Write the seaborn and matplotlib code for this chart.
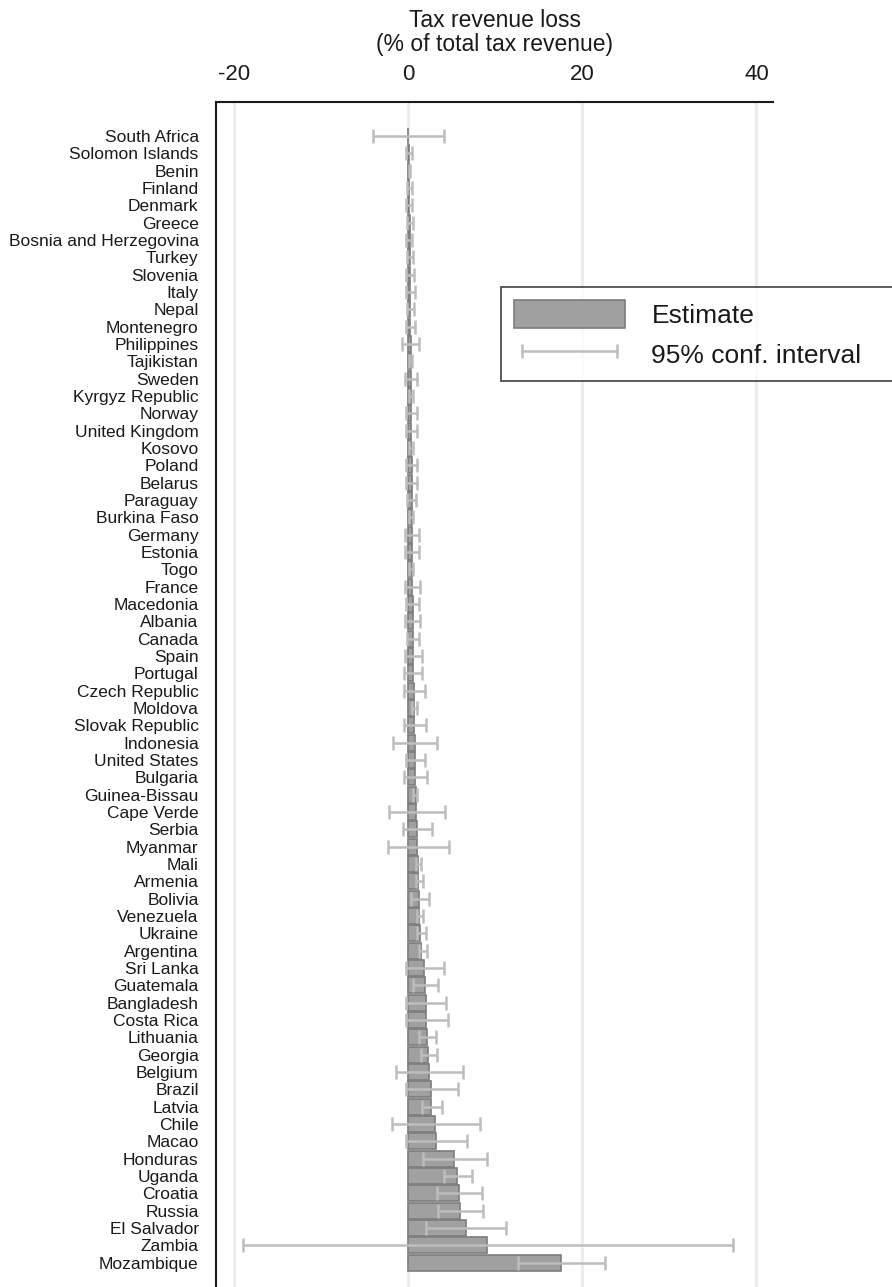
import numpy as np
import pandas as pd
import matplotlib
matplotlib.use("Agg")
import matplotlib.pyplot as plt
import seaborn as sns
from matplotlib.patches import Patch
from matplotlib.lines import Line2D

# ---- data ----
countries = [
    "South Africa", "Solomon Islands", "Benin", "Finland", "Denmark", "Greece",
    "Bosnia and Herzegovina", "Turkey", "Slovenia", "Italy", "Nepal", "Montenegro",
    "Philippines", "Tajikistan", "Sweden", "Kyrgyz Republic", "Norway",
    "United Kingdom", "Kosovo", "Poland", "Belarus", "Paraguay", "Burkina Faso",
    "Germany", "Estonia", "Togo", "France", "Macedonia", "Albania", "Canada",
    "Spain", "Portugal", "Czech Republic", "Moldova", "Slovak Republic",
    "Indonesia", "United States", "Bulgaria", "Guinea-Bissau", "Cape Verde",
    "Serbia", "Myanmar", "Mali", "Armenia", "Bolivia", "Venezuela", "Ukraine",
    "Argentina", "Sri Lanka", "Guatemala", "Bangladesh", "Costa Rica",
    "Lithuania", "Georgia", "Belgium", "Brazil", "Latvia", "Chile", "Macao",
    "Honduras", "Uganda", "Croatia", "Russia", "El Salvador", "Zambia",
    "Mozambique",
]

estimate = [
    0.00, 0.05, 0.08, 0.10, 0.12, 0.14, 0.15, 0.17, 0.18, 0.20, 0.20, 0.22,
    0.25, 0.27, 0.30, 0.30, 0.32, 0.33, 0.35, 0.37, 0.38, 0.40, 0.40, 0.42,
    0.43, 0.45, 0.47, 0.48, 0.50, 0.52, 0.55, 0.58, 0.62, 0.65, 0.68, 0.72,
    0.75, 0.78, 0.82, 0.92, 0.96, 1.02, 1.08, 1.12, 1.17, 1.24, 1.32, 1.50,
    1.80, 1.92, 1.99, 2.07, 2.18, 2.30, 2.38, 2.56, 2.65, 3.09, 3.17, 5.29,
    5.64, 5.82, 5.90, 6.61, 9.08, 17.55,
]

ci_low = [
    -4.06, -0.27, 0.02, -0.19, -0.23, -0.19, -0.23, -0.11, -0.27, -0.27, -0.19,
    -0.27, -0.69, 0.08, -0.34, 0.08, -0.27, -0.27, 0.08, -0.31, -0.31, -0.15,
    0.11, -0.42, -0.42, 0.11, -0.42, -0.31, -0.34, -0.19, -0.42, -0.46, -0.54,
    0.42, -0.54, -1.72, -0.23, -0.50, 0.50, -2.22, -0.61, -2.30, 0.84, 0.88,
    0.34, 1.03, 0.96, 1.23, -0.31, 0.57, -0.31, -0.31, 1.19, 1.50, -1.41,
    -0.26, 1.59, -1.85, -0.26, 1.68, 4.06, 3.30, 3.40, 2.07, -19.0, 12.57,
]

ci_high = [
    4.10, 0.38, 0.14, 0.42, 0.46, 0.50, 0.46, 0.50, 0.65, 0.73, 0.61, 0.77,
    1.26, 0.46, 1.00, 0.50, 1.00, 1.00, 0.57, 1.03, 1.03, 0.88, 0.57, 1.19,
    1.19, 0.57, 1.30, 1.26, 1.30, 1.19, 1.53, 1.61, 1.88, 1.00, 1.99, 3.33,
    1.95, 2.18, 1.03, 4.25, 2.76, 4.64, 1.46, 1.72, 2.34, 1.69, 1.99, 2.11,
    4.14, 3.45, 4.37, 4.60, 3.22, 3.26, 6.30, 5.69, 3.92, 8.25, 6.79, 9.08,
    7.32, 8.42, 8.55, 11.24, 37.26, 22.60,
]

xticks = [-20, 0, 20, 40]

df = pd.DataFrame({"country": countries, "estimate": estimate,
                   "lo": ci_low, "hi": ci_high})

# ---- style ----
sns.set_style("white")
plt.rcParams["font.family"] = ["Liberation Sans", "DejaVu Sans"]

bar_fill = "#a0a0a0"
bar_edge = "#7c7c7c"
ci_color = "#bdbdbd"
ink = "#1a1a1a"

fig = plt.figure(figsize=(8.92, 12.87), dpi=100)
ax = fig.add_axes([0.2422, 0.0, 0.8666 - 0.2422, 0.9207])

# light vertical grid behind the bars
for t in xticks:
    ax.axvline(t, color="#e9e9e9", lw=1.8, zorder=0)

sns.barplot(data=df, x="estimate", y="country", orient="h", color=bar_fill,
            edgecolor=bar_edge, linewidth=1.2, saturation=1, width=0.92,
            errorbar=None, ax=ax, zorder=2)

ypos = np.arange(len(df))
xerr = [df["estimate"] - df["lo"], df["hi"] - df["estimate"]]
ax.errorbar(df["estimate"], ypos, xerr=xerr, fmt="none", ecolor=ci_color,
            elinewidth=1.8, capsize=4.8, capthick=1.8, zorder=3)

# axes cosmetics: x axis on top, only left and top spines
ax.set_xlim(-22.1, 41.9)
ax.set_ylim(66.4, -1.95)
ax.xaxis.set_ticks_position("top")
ax.xaxis.set_label_position("top")
ax.set_xticks(xticks)
ax.set_xticklabels([str(t) for t in xticks], fontsize=16)
ax.tick_params(axis="x", direction="out", length=7, width=1.2, pad=5,
               colors=ink)
ax.tick_params(axis="y", direction="out", length=4.5, width=1.3, pad=8,
               labelsize=12.5, colors=ink)
ax.set_xlabel("Tax revenue loss\n(% of total tax revenue)", fontsize=16.5,
              labelpad=10, color=ink, linespacing=1.05)
ax.set_ylabel("")
sns.despine(ax=ax, top=False, right=True, bottom=True, left=False)
for side in ("top", "left"):
    ax.spines[side].set_linewidth(1.5)
    ax.spines[side].set_color(ink)
ax.grid(False)

# legend
handles = [
    Patch(facecolor=bar_fill, edgecolor=bar_edge, linewidth=1.2, label="Estimate"),
    Line2D([0], [0], color=ci_color, lw=1.8, marker="|", markersize=10,
           markeredgewidth=1.8, label="95% conf. interval   "),
]
leg = fig.legend(handles=handles, loc="upper left",
                 bbox_to_anchor=(0.5617, 0.777), bbox_transform=fig.transFigure,
                 fontsize=19, frameon=True, fancybox=False, numpoints=2,
                 handlelength=4.2, handleheight=1.25, handletextpad=1.0,
                 borderpad=0.5, labelspacing=0.45, borderaxespad=0)
leg.get_frame().set_edgecolor("#111111")
leg.get_frame().set_linewidth(1.2)
for txt in leg.get_texts():
    txt.set_color(ink)

fig.savefig("out.png", dpi=100)
